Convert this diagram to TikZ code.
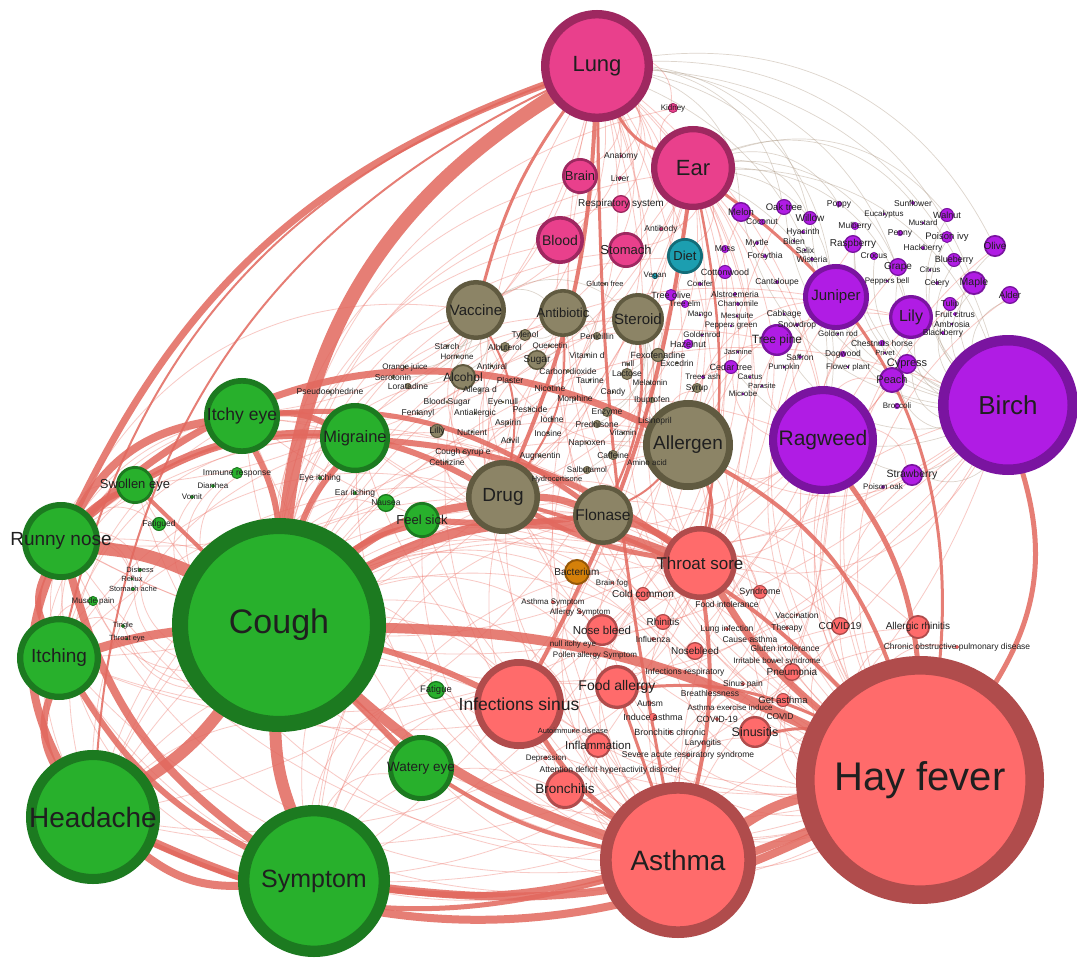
\documentclass[tikz,border=0pt]{standalone}
\usepackage{fontspec}
\setmainfont{Liberation Sans}
\pgfdeclarelayer{edges}
\pgfdeclarelayer{fg}
\pgfsetlayers{edges,main,fg}
\definecolor{pkF}{RGB}{233,64,140}\definecolor{pkD}{RGB}{158,40,96}
\definecolor{puF}{RGB}{176,28,228}\definecolor{puD}{RGB}{122,20,160}
\definecolor{olF}{RGB}{140,132,102}\definecolor{olD}{RGB}{96,90,64}
\definecolor{grF}{RGB}{40,176,44}\definecolor{grD}{RGB}{28,122,32}
\definecolor{saF}{RGB}{255,107,107}\definecolor{saD}{RGB}{176,76,76}
\definecolor{tlF}{RGB}{28,158,176}\definecolor{tlD}{RGB}{18,108,120}
\definecolor{orF}{RGB}{212,128,10}\definecolor{orD}{RGB}{150,88,8}
\definecolor{edgeC}{RGB}{226,104,94}
\definecolor{edgeL}{RGB}{238,120,110}
\definecolor{edgeG}{RGB}{170,150,128}
\tikzset{
  bubble/.style={circle,inner sep=0pt,outer sep=0pt},
  pk/.style={fill=pkF,draw=pkD},
  pu/.style={fill=puF,draw=puD},
  olv/.style={fill=olF,draw=olD},
  gr/.style={fill=grF,draw=grD},
  sa/.style={fill=saF,draw=saD},
  tl/.style={fill=tlF,draw=tlD},
  orn/.style={fill=orF,draw=orD},
  lbl/.style={inner sep=0pt,text=black!88,align=center},
  thk/.style={draw=edgeC,opacity=0.85},
  thn/.style={draw=edgeL,opacity=0.4,line width=0.8pt},
  thg/.style={draw=edgeG,opacity=0.4,line width=0.7pt},
}
\newcommand\bub[7]{%
  \pgfmathsetmacro\ringw{max(0.6,0.15*#4)}%
  \pgfmathsetmacro\diam{2*#4-\ringw}%
  \node[bubble,#5,minimum size=\diam pt,line width=\ringw pt] (#1) at (#2,#3) {};%
  \begin{pgfonlayer}{fg}\node[lbl,font=\fontsize{#6}{#6}\selectfont] (#1-t) at (#1.center) {#7};\end{pgfonlayer}%
}
\begin{document}
\begin{tikzpicture}[x=1pt,y=-1pt]
\useasboundingbox (0,0) rectangle (1077,958);
% ---------- pink
\bub{lung}{597}{66}{56}{pk}{22}{Lung}
\bub{ear}{693}{168}{42}{pk}{22}{Ear}
\bub{brain}{580}{176}{18}{pk}{13}{Brain}
\bub{blood}{560}{240}{24}{pk}{14}{Blood}
\bub{stomach}{626}{250}{18}{pk}{13}{Stomach}
\bub{resp}{621}{204}{9}{pk}{10}{Respiratory system}
\bub{kidney}{673}{108}{5}{pk}{8}{Kidney}
\bub{anatomy}{621}{156}{1.2}{pk}{8.5}{Anatomy}
\bub{liver}{620}{178}{2}{pk}{8.5}{Liver}
\bub{antibody}{661}{229}{2}{pk}{8.5}{Antibody}
% ---------- teal / orange
\bub{diet}{685}{256}{18}{tl}{13}{Diet}
\bub{vegan}{655}{276}{3}{tl}{8}{Vegan}
\bub{bacterium}{577}{572}{13}{orn}{10}{Bacterium}
% ---------- olive
\bub{vaccine}{476}{310}{30}{olv}{15}{Vaccine}
\bub{antibiotic}{563}{313}{24}{olv}{13}{Antibiotic}
\bub{steroid}{638}{319}{26}{olv}{15}{Steroid}
\bub{allergen}{688}{445}{45}{olv}{19}{Allergen}
\bub{drug}{503}{497}{37}{olv}{19}{Drug}
\bub{flonase}{603}{515}{30}{olv}{15.5}{Flonase}
\bub{alcohol}{463}{377}{13}{olv}{12}{Alcohol}
\bub{sugar}{537}{360}{10}{olv}{10}{Sugar}
\bub{tylenol}{525}{335}{6}{olv}{8.5}{Tylenol}
\bub{albuterol}{505}{347}{5}{olv}{8.5}{Albuterol}
\bub{penicillin}{597}{336}{4}{olv}{8.5}{Penicillin}
\bub{lilly}{437}{431}{7}{olv}{9}{Lilly}
\bub{fexo}{658}{355}{7}{olv}{9}{Fexofenadine}
\bub{lactose}{627}{374}{6}{olv}{8.5}{Lactose}
\bub{syrup}{697}{388}{5}{olv}{8.5}{Syrup}
\bub{enzyme}{607}{412}{5}{olv}{8.5}{Enzyme}
\bub{pred}{597}{424}{4}{olv}{8.5}{Prednisone}
\bub{caffeine}{613}{455}{5}{olv}{8.5}{Caffeine}
\bub{salbut}{587}{470}{4}{olv}{8}{Salbutamol}
\bub{loratadine}{408}{386}{3}{olv}{8.5}{Loratadine}
\bub{serotonin}{393}{377}{2}{olv}{8.5}{Serotonin}
\bub{ibuprofen}{652}{400}{3}{olv}{8.5}{Ibuprofen}
\bub{pseudo}{330}{392}{1.2}{olv}{8.5}{Pseudoephedrine}
\bub{glutenfree}{605}{284}{1.2}{olv}{7.5}{Gluten free}
\bub{starch}{447}{346}{1.5}{olv}{8.5}{Starch}
\bub{quercetin}{550}{346}{1.2}{olv}{8}{Quercetin}
\bub{hormone}{457}{357}{1.2}{olv}{8}{Hormone}
\bub{vitd}{587}{355}{1.2}{olv}{8.5}{Vitamin d}
\bub{orangej}{405}{367}{1.2}{olv}{8}{Orange juice}
\bub{antiviral}{492}{366}{1.2}{olv}{8.5}{Antiviral}
\bub{co2}{568}{371}{2}{olv}{8.5}{Carbon dioxide}
\bub{nullb}{628}{364}{1.2}{olv}{8}{null}
\bub{plaster}{510}{380}{1.2}{olv}{8.5}{Plaster}
\bub{taurine}{590}{380}{1.2}{olv}{8.5}{Taurine}
\bub{allegra}{480}{390}{1.2}{olv}{8.5}{Allegra d}
\bub{nicotine}{550}{388}{1.2}{olv}{8.5}{Nicotine}
\bub{candy}{613}{392}{1.2}{olv}{8.5}{Candy}
\bub{melatonin}{650}{383}{1.2}{olv}{8}{Melatonin}
\bub{excedrin}{677}{363}{1.2}{olv}{8.5}{Excedrin}
\bub{bloodsugar}{447}{402}{1.5}{olv}{8.5}{Blood Sugar}
\bub{eyenull}{503}{402}{1.2}{olv}{8.5}{Eye null}
\bub{morphine}{575}{399}{1.2}{olv}{8.5}{Morphine}
\bub{fentanyl}{418}{413}{1.2}{olv}{8.5}{Fentanyl}
\bub{antiall}{475}{413}{1.2}{olv}{8.5}{Antiallergic}
\bub{pesticide}{530}{409}{1.2}{olv}{8.5}{Pesticide}
\bub{iodine}{552}{419}{1.2}{olv}{8.5}{Iodine}
\bub{nutrient}{472}{432}{1.2}{olv}{8.5}{Nutrient}
\bub{aspirin}{508}{423}{1.2}{olv}{8.5}{Aspirin}
\bub{inosine}{548}{433}{1.2}{olv}{8.5}{Inosine}
\bub{vitamin}{623}{433}{1.2}{olv}{8}{Vitamin}
\bub{lisinopril}{655}{421}{1.2}{olv}{8.5}{Lisinopril}
\bub{advil}{510}{440}{1.2}{olv}{8.5}{Advil}
\bub{naproxen}{587}{443}{1.2}{olv}{8.5}{Naproxen}
\bub{coughsyrup}{463}{452}{1.2}{olv}{8.5}{Cough syrup e}
\bub{cetirizine}{447}{462}{1.5}{olv}{8.5}{Cetirizine}
\bub{augmentin}{540}{456}{1.2}{olv}{8.5}{Augmentin}
\bub{aminoacid}{647}{463}{1.2}{olv}{8}{Amino acid}
\bub{hydrocort}{557}{480}{1.2}{olv}{7.5}{Hydrocortisone}
% ---------- purple
\bub{birch}{1008}{405}{70}{pu}{26}{Birch}
\bub{ragweed}{823}{440}{54}{pu}{21}{Ragweed}
\bub{juniper}{836}{297}{33}{pu}{15}{Juniper}
\bub{lily}{911}{317}{22}{pu}{16}{Lily}
\bub{treepine}{777}{340}{16}{pu}{12}{Tree pine}
\bub{peach}{892}{380}{13}{pu}{11}{Peach}
\bub{cypress}{907}{364}{10}{pu}{11}{Cypress}
\bub{strawberry}{912}{475}{11}{pu}{10.5}{Strawberry}
\bub{maple}{974}{283}{12}{pu}{10.5}{Maple}
\bub{olivetr}{995}{246}{11}{pu}{10}{Olive}
\bub{alder}{1010}{295}{9}{pu}{9.5}{Alder}
\bub{grape}{898}{267}{9}{pu}{10}{Grape}
\bub{raspberry}{853}{244}{9}{pu}{10}{Raspberry}
\bub{melon}{741}{212}{10}{pu}{9.5}{Melon}
\bub{oaktree}{784}{207}{8}{pu}{9.5}{Oak tree}
\bub{willow}{810}{218}{7}{pu}{10}{Willow}
\bub{walnut}{947}{215}{7}{pu}{9}{Walnut}
\bub{poisonivy}{947}{237}{6}{pu}{9.5}{Poison ivy}
\bub{blueberry}{954}{260}{7}{pu}{9}{Blueberry}
\bub{cottonwood}{725}{272}{7}{pu}{9}{Cottonwood}
\bub{cedartree}{731}{367}{7}{pu}{9}{Cedar tree}
\bub{hazelnut}{688}{344}{5}{pu}{9}{Hazelnut}
\bub{treeolive}{671}{295}{6}{pu}{9}{Tree olive}
\bub{tulip}{950}{304}{7}{pu}{8.5}{Tulip}
\bub{coconut}{762}{222}{3}{pu}{8.5}{Coconut}
\bub{poppy}{839}{204}{3}{pu}{8.5}{Poppy}
\bub{sunflower}{913}{203}{2}{pu}{8.5}{Sunflower}
\bub{eucalyptus}{884}{214}{1.2}{pu}{8}{Eucalyptus}
\bub{mustard}{923}{223}{1.2}{pu}{8}{Mustard}
\bub{mulberry}{855}{226}{4}{pu}{8.5}{Mulberry}
\bub{peony}{900}{233}{3}{pu}{8.5}{Peony}
\bub{hyacinth}{803}{232}{2}{pu}{8.5}{Hyacinth}
\bub{biden}{794}{241}{1.2}{pu}{8.5}{Biden}
\bub{myrtle}{757}{243}{2}{pu}{8.5}{Myrtle}
\bub{moss}{725}{249}{4}{pu}{8.5}{Moss}
\bub{salix}{805}{250}{1.2}{pu}{8.5}{Salix}
\bub{forsythia}{765}{256}{2}{pu}{8.5}{Forsythia}
\bub{wisteria}{812}{259}{2}{pu}{8.5}{Wisteria}
\bub{crocus}{874}{256}{4}{pu}{8.5}{Crocus}
\bub{hackberry}{923}{248}{2}{pu}{8.5}{Hackberry}
\bub{citrus}{930}{270}{1.2}{pu}{8}{Citrus}
\bub{cantaloupe}{777}{282}{2}{pu}{8.5}{Cantaloupe}
\bub{peppersbell}{887}{281}{1.2}{pu}{8}{Peppers bell}
\bub{celery}{937}{283}{2}{pu}{8.5}{Celery}
\bub{fruitcitrus}{955}{314}{2}{pu}{8.5}{Fruit citrus}
\bub{ambrosia}{952}{324}{1.2}{pu}{8.5}{Ambrosia}
\bub{blackberry}{943}{333}{2}{pu}{8.5}{Blackberry}
\bub{alstro}{735}{294}{2}{pu}{8.5}{Alstroemeria}
\bub{chamomile}{738}{304}{2}{pu}{8}{Chamomile}
\bub{mesquite}{737}{316}{1.2}{pu}{8}{Mesquite}
\bub{cabbage}{784}{314}{1.2}{pu}{8.5}{Cabbage}
\bub{snowdrop}{797}{325}{2}{pu}{8.5}{Snowdrop}
\bub{peppersgreen}{731}{326}{1.2}{pu}{8}{Peppers green}
\bub{goldenrodb}{838}{334}{1.2}{pu}{8}{Golden rod}
\bub{mango}{700}{315}{1.2}{pu}{8}{Mango}
\bub{conifer}{700}{284}{2}{pu}{8}{Conifer}
\bub{treeelm}{685}{304}{4}{pu}{8}{Tree elm}
\bub{goldenrod}{702}{335}{1.2}{pu}{8}{Goldenrod}
\bub{jasmine}{738}{352}{1.2}{pu}{7.5}{Jasmine}
\bub{saffron}{800}{357}{2}{pu}{8.5}{Saffron}
\bub{dogwood}{843}{354}{3}{pu}{8.5}{Dogwood}
\bub{flowerplant}{848}{367}{1.2}{pu}{8}{Flower plant}
\bub{pumpkin}{784}{367}{1.2}{pu}{8}{Pumpkin}
\bub{cactus}{750}{377}{1.2}{pu}{8}{Cactus}
\bub{treesash}{703}{377}{2}{pu}{8}{Trees ash}
\bub{parasite}{762}{386}{1.2}{pu}{7.5}{Parasite}
\bub{microbe}{743}{394}{1.2}{pu}{8}{Microbe}
\bub{chestnut}{882}{343}{3}{pu}{8.5}{Chestnuts horse}
\bub{privet}{885}{353}{1.2}{pu}{7.5}{Privet}
\bub{broccoli}{897}{406}{3}{pu}{8}{Broccoli}
\bub{poisonoak}{883}{487}{2}{pu}{8}{Poison oak}
% ---------- green
\bub{cough}{279}{625}{107}{gr}{34}{Cough}
\bub{headache}{93}{817}{67}{gr}{28}{Headache}
\bub{symptom}{314}{881}{76}{gr}{25}{Symptom}
\bub{runny}{61}{541}{39}{gr}{19}{Runny nose}
\bub{itching}{59}{658}{42}{gr}{19}{Itching}
\bub{itchyeye}{242}{416}{38}{gr}{17.5}{Itchy eye}
\bub{migraine}{355}{438}{35}{gr}{16.5}{Migraine}
\bub{swollen}{135}{485}{19}{gr}{13}{Swollen eye}
\bub{feelsick}{422}{520}{18}{gr}{13}{Feel sick}
\bub{watery}{421}{768}{33}{gr}{13.5}{Watery eye}
\bub{fatigue}{436}{690}{9}{gr}{9.5}{Fatigue}
\bub{fatigued}{159}{524}{7}{gr}{8.5}{Fatigued}
\bub{nausea}{386}{503}{9}{gr}{8.5}{Nausea}
\bub{immune}{237}{473}{6}{gr}{8.5}{Immune response}
\bub{musclepain}{93}{601}{5}{gr}{8}{Muscle pain}
\bub{diarrhea}{213}{486}{2}{gr}{8}{Diarrhea}
\bub{vomit}{192}{497}{2}{gr}{8}{Vomit}
\bub{eyeitch}{320}{478}{2}{gr}{8.5}{Eye itching}
\bub{earitch}{355}{493}{2}{gr}{8.5}{Ear itching}
\bub{distress}{140}{570}{2}{gr}{7.5}{Distress}
\bub{reflux}{132}{579}{1.2}{gr}{7.5}{Reflux}
\bub{stomachache}{133}{589}{2}{gr}{7.5}{Stomach ache}
\bub{tingle}{123}{626}{2}{gr}{7.5}{Tingle}
\bub{throateye}{127}{639}{1.2}{gr}{7.5}{Throat eye}
% ---------- salmon
\bub{hayfever}{920}{780}{124}{sa}{40}{Hay fever}
\bub{asthma}{678}{860}{78}{sa}{28}{Asthma}
\bub{throatsore}{700}{563}{37}{sa}{17}{Throat sore}
\bub{infsinus}{519}{704}{45}{sa}{17.5}{Infections sinus}
\bub{foodallergy}{617}{687}{22}{sa}{14}{Food allergy}
\bub{bronchitis}{565}{789}{20}{sa}{13.5}{Bronchitis}
\bub{sinusitis}{755}{732}{16}{sa}{12.5}{Sinusitis}
\bub{nosebleed}{602}{630}{16}{sa}{11.5}{Nose bleed}
\bub{allrhin}{918}{627}{12}{sa}{10}{Allergic rhinitis}
\bub{covidxix}{840}{626}{9}{sa}{10}{COVID19}
\bub{pneumonia}{792}{672}{9}{sa}{10}{Pneumonia}
\bub{inflammation}{598}{745}{13}{sa}{11.5}{Inflammation}
\bub{rhinitis}{663}{622}{8}{sa}{10}{Rhinitis}
\bub{nosebleedb}{695}{651}{9}{sa}{10}{Nosebleed}
\bub{coldcommon}{643}{594}{7}{sa}{10}{Cold common}
\bub{syndrome}{760}{592}{7}{sa}{9}{Syndrome}
\bub{getasthma}{783}{700}{7}{sa}{9.5}{Get asthma}
\bub{brainfog}{612}{583}{1.2}{sa}{8}{Brain fog}
\bub{foodintol}{727}{604}{2}{sa}{8.5}{Food intolerance}
\bub{asthmasym}{553}{602}{2}{sa}{8}{Asthma Symptom}
\bub{allergysym}{580}{612}{2}{sa}{8}{Allergy Symptom}
\bub{lunginf}{727}{629}{2}{sa}{8.5}{Lung infection}
\bub{influenza}{653}{639}{2}{sa}{8.5}{Influenza}
\bub{causeasthma}{750}{639}{2}{sa}{8.5}{Cause asthma}
\bub{nullitchy}{573}{644}{1.2}{sa}{8}{null itchy eye}
\bub{glutenintol}{785}{648}{1.2}{sa}{8.5}{Gluten intolerance}
\bub{pollen}{595}{655}{2}{sa}{8}{Pollen allergy Symptom}
\bub{ibs}{777}{661}{1.2}{sa}{8}{Irritable bowel syndrome}
\bub{infresp}{685}{672}{2}{sa}{8.5}{Infections respiratory}
\bub{breath}{710}{693}{2}{sa}{8.5}{Breathlessness}
\bub{sinuspain}{743}{684}{2}{sa}{8.5}{Sinus pain}
\bub{vaccination}{797}{615}{1.2}{sa}{8.5}{Vaccination}
\bub{therapy}{787}{628}{2}{sa}{8.5}{Therapy}
\bub{copd}{957}{647}{2}{sa}{8.5}{Chronic obstructive pulmonary disease}
\bub{autism}{650}{703}{2}{sa}{8.5}{Autism}
\bub{asthmaex}{730}{708}{1.2}{sa}{8}{Asthma exercise induce}
\bub{induceasthma}{653}{717}{4}{sa}{9}{Induce asthma}
\bub{covidb}{717}{719}{2}{sa}{9}{COVID-19}
\bub{covid}{780}{717}{1.2}{sa}{8.5}{COVID}
\bub{autoimmune}{573}{731}{1.2}{sa}{7.5}{Autoimmune disease}
\bub{bronchron}{670}{732}{2}{sa}{9}{Bronchitis chronic}
\bub{laryngitis}{703}{743}{2}{sa}{8.5}{Laryngitis}
\bub{sars}{688}{755}{2}{sa}{8.5}{Severe acute respiratory syndrome}
\bub{depression}{546}{758}{2}{sa}{8}{Depression}
\bub{adhd}{610}{770}{1.2}{sa}{8.5}{Attention deficit hyperactivity disorder}
% ---------- edges
\begin{pgfonlayer}{edges}
\fill[white] (0,0) rectangle (1077,958);
% thin light edges
\foreach \t in {ear,allergen,ragweed,birch,vaccine,antibiotic,steroid,bronchitis,sinusitis,foodallergy,nosebleed,pneumonia,covidxix,allrhin,fatigue,nausea,immune,diarrhea,vomit,musclepain,distress,stomachache,tingle,throateye,coldcommon,rhinitis,influenza,juniper,lily,treepine,brain,blood,stomach,diet,resp,kidney,bacterium,inflammation,alcohol,lilly}
  \draw[thn] (cough) to[bend left=35] (\t);
\foreach \t in {lung,ear,brain,blood,vaccine,antibiotic,steroid,juniper,lily,treepine,peach,cypress,strawberry,maple,olivetr,alder,grape,itching,runny,migraine,itchyeye,swollen,watery,feelsick,fatigue,pneumonia,covidxix,allrhin,copd,bronchitis,foodallergy,nosebleed,rhinitis,infsinus,inflammation,syndrome,getasthma,oaktree,melon,raspberry,diet,fexo}
  \draw[thn] (hayfever) to[bend left=35] (\t);
\foreach \t in {lung,ear,runny,itching,itchyeye,migraine,drug,allergen,flonase,ragweed,birch,pneumonia,covidxix,sinusitis,inflammation,copd,allrhin,vaccine,antibiotic,steroid,swollen,feelsick,nosebleed,coldcommon}
  \draw[thn] (asthma) to[bend left=35] (\t);
\foreach \t in {brain,blood,stomach,resp,kidney,antibiotic,steroid,drug,allergen,migraine,itchyeye,symptom,watery,throatsore,infsinus,bronchitis,pneumonia,vaccine,anatomy,liver,swollen,feelsick}
  \draw[thn] (lung) to[bend left=35] (\t);
\foreach \t in {birch,ragweed,juniper,lily,olivetr,maple,melon,oaktree,willow}
  \draw[thg] (lung) to[bend left=35] (\t);
\foreach \t in {throatsore,runny,itching,itchyeye,headache,symptom,drug,allergen,diet,stomach,infsinus,nosebleed,antibody,kidney,foodallergy,sinusitis}
  \draw[thn] (ear) to[bend left=35] (\t);
\foreach \t in {birch,ragweed,juniper,lily,walnut,willow,grape,sunflower,poppy}
  \draw[thg] (ear) to[bend left=35] (\t);
\foreach \t in {juniper,lily,ragweed,olivetr,maple,alder,grape,walnut,poisonivy,blueberry,tulip,raspberry,willow,oaktree,melon,peach,cypress,strawberry,treepine,cedartree,mulberry,crocus}
  \draw[thg] (birch) to[bend left=35] (\t);
\foreach \t in {allergen,itchyeye,runny,cough,symptom,headache,throatsore,itching,migraine}
  \draw[thn] (birch) to[bend left=35] (\t);
\foreach \t in {juniper,lily,treepine,allergen,throatsore,symptom,headache,itching,runny,migraine,peach,strawberry,cedartree}
  \draw[thn] (ragweed) to[bend left=35] (\t);
\foreach \t in {migraine,itchyeye,drug,allergen,throatsore,watery,infsinus,flonase,swollen,musclepain}
  \draw[thn] (headache) to[bend left=35] (\t);
\foreach \t in {drug,allergen,throatsore,flonase,infsinus,watery,foodallergy,bronchitis,fatigue,runny}
  \draw[thn] (symptom) to[bend left=35] (\t);
\foreach \t in {swollen,fatigued,distress,reflux,stomachache,throatsore,flonase,migraine,watery,vaccine}
  \draw[thn] (runny) to[bend left=35] (\t);
\foreach \t in {swollen,musclepain,tingle,itchyeye,migraine,drug,throatsore}
  \draw[thn] (itching) to[bend left=35] (\t);
\foreach \t in {vaccine,antibiotic,steroid,alcohol,sugar,tylenol,allergen,lilly,aspirin,advil,cetirizine,augmentin,throatsore,infsinus}
  \draw[thn] (drug) to[bend left=35] (\t);
\foreach \t in {throatsore,vaccine,steroid,fexo,syrup,ibuprofen,juniper,treepine,cedartree,lily}
  \draw[thn] (allergen) to[bend left=35] (\t);
\foreach \t in {coldcommon,rhinitis,syndrome,foodintol,covidxix,pneumonia,sinusitis,infsinus,nosebleed,bacterium,brainfog}
  \draw[thn] (throatsore) to[bend left=35] (\t);
\foreach \t in {alcohol,starch,antibiotic,steroid,hormone,orangej,serotonin,loratadine}
  \draw[thg] (vaccine) to[bend left=35] (\t);
\foreach \t in {penicillin,quercetin,sugar,tylenol,vitd}
  \draw[thg] (antibiotic) to[bend left=35] (\t);
\foreach \t in {fexo,lactose,pred,enzyme,caffeine,salbut}
  \draw[thg] (steroid) to[bend left=35] (\t);
% medium edges
\foreach \a/\b/\w/\bd in {
  vaccine/drug/2/20, antibiotic/drug/2/20, steroid/flonase/2.5/15, allergen/throatsore/3/20,
  allergen/flonase/2/10, ear/throatsore/2.5/10, lung/drug/4/10, lung/asthma/3/-5,
  lung/ear/3/-20, lung/vaccine/3/-10, ear/hayfever/3/30, ear/infsinus/4/10,
  drug/hayfever/4/15, allergen/hayfever/4/20, throatsore/asthma/4/10, infsinus/asthma/5/-10,
  foodallergy/asthma/3/0, bronchitis/asthma/3/0, watery/asthma/4/-10, swollen/migraine/5/15,
  cough/feelsick/5/10, drug/throatsore/5/-10, runny/swollen/6/10, swollen/cough/4/0,
  headache/asthma/5/-20, symptom/asthma/6/-10, itchyeye/flonase/5/20, feelsick/flonase/6/-5,
  itching/lung/2/28, headache/lung/2/30, sinusitis/hayfever/3/10, foodallergy/hayfever/3/15}
  \draw[thk,line width=\w pt] (\a) to[bend left=\bd] (\b);
% thick edges
\foreach \a/\b/\w/\bd in {
  cough/lung/14/26, runny/lung/7/22, runny/cough/13/10, headache/cough/12/-10,
  symptom/cough/12/10, itching/cough/9/5, runny/allergen/7/35, runny/drug/6/35,
  migraine/throatsore/6/15, cough/throatsore/10/25, cough/drug/8/15, drug/flonase/7/10,
  flonase/throatsore/7/10, cough/asthma/10/-12, cough/hayfever/10/12, cough/watery/6/0,
  cough/infsinus/6/5, headache/hayfever/8/-25, symptom/hayfever/8/-15, asthma/hayfever/10/10,
  throatsore/hayfever/7/-10, birch/hayfever/5/25, ragweed/hayfever/5/15,
  runny/headache/8/-25, runny/itching/6/-25, itching/headache/7/-25, runny/symptom/8/-20,
  itching/symptom/6/-15, headache/symptom/8/-20, itchyeye/cough/6/10, migraine/cough/6/-10,
  runny/itchyeye/8/25, itchyeye/migraine/6/15}
  \draw[thk,line width=\w pt] (\a) to[bend left=\bd] (\b);
\end{pgfonlayer}
\end{tikzpicture}
\end{document}
